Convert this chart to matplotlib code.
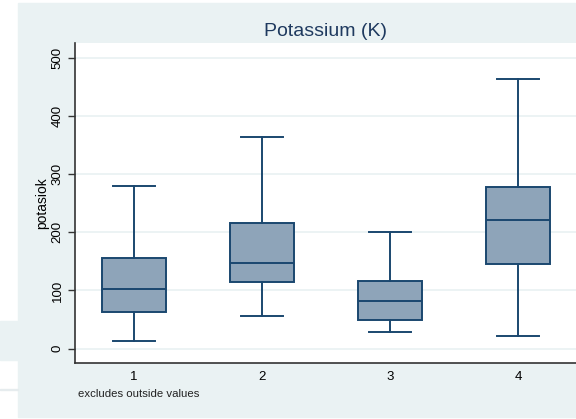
import matplotlib
matplotlib.use("Agg")
import matplotlib.pyplot as plt
from matplotlib.patches import Rectangle

# values (potassium by group)
groups = ["1", "2", "3", "4"]
whisker_low = [12.6, 55.4, 28.0, 21.1]
q1 = [62.3, 113.7, 49.7, 145.1]
median = [102.9, 146.9, 81.7, 221.1]
q3 = [155.4, 216.6, 116.6, 278.3]
whisker_high = [280.0, 362.9, 201.0, 463.4]
yticks = [0, 100, 200, 300, 400, 500]

NAVY = "#1A476F"
FILL = "#8EA4B9"
BG = "#EAF2F3"

plt.rcParams["font.family"] = ["Liberation Sans", "DejaVu Sans"]

fig = plt.figure(figsize=(5.76, 4.19), dpi=100)
W, H = 576, 419

# outer graph region (screenshot is cropped)
fig.patches.append(Rectangle((18 / W, 2 / H), 1 - 18 / W, 414 / H,
                             transform=fig.transFigure, color=BG, zorder=0))
fig.patches.append(Rectangle((0, 1 - 360 / H), 18 / W, 39 / H,
                             transform=fig.transFigure, color=BG, zorder=0))
fig.patches.append(Rectangle((0, 1 - 390 / H), 18 / W, 1.2 / H,
                             transform=fig.transFigure, color="#E6ECEE", zorder=0))

ax = fig.add_axes([74.6 / W, 1 - 363 / H, 1 - 74.6 / W, 320 / H])
ax.set_zorder(2)
ax.set_facecolor("white")

stats = []
for i, g in enumerate(groups):
    stats.append({"label": g, "whislo": whisker_low[i], "q1": q1[i],
                  "med": median[i], "q3": q3[i], "whishi": whisker_high[i],
                  "fliers": []})

line = dict(color=NAVY, linewidth=1.4)
ax.bxp(stats, positions=range(1, len(groups) + 1), widths=0.5,
       patch_artist=True, showfliers=False,
       boxprops=dict(facecolor=FILL, edgecolor=NAVY, linewidth=1.4),
       medianprops=line, whiskerprops=line,
       capprops=dict(color=NAVY, linewidth=1.4), capwidths=0.33)

ax.set_xlim(0.536, 4.45)
ax.set_ylim(-24.6, 525)
ax.set_yticks(yticks)
ax.yaxis.grid(True, color=BG, linewidth=1.3)
ax.set_axisbelow(True)

ax.tick_params(axis="y", direction="out", length=5, width=1, color="#333333",
               labelsize=9.5, pad=3)
for lab in ax.get_yticklabels():
    lab.set_rotation(90)
    lab.set_va("center")
ax.tick_params(axis="x", length=0, labelsize=9.5, pad=6)

for side in ["top", "right"]:
    ax.spines[side].set_visible(False)
for side in ["left", "bottom"]:
    ax.spines[side].set_color("#333333")
    ax.spines[side].set_linewidth(1.2)

ax.set_ylabel("potasiok", fontsize=10, labelpad=2)
ax.set_title("Potassium (K)", fontsize=14, color="#1F3A5F", pad=5)

fig.text(77.5 / W, 1 - 394 / H, "excludes outside values", fontsize=8.2,
         va="center", ha="left", color="#222222")

fig.savefig("out.png", dpi=100)
